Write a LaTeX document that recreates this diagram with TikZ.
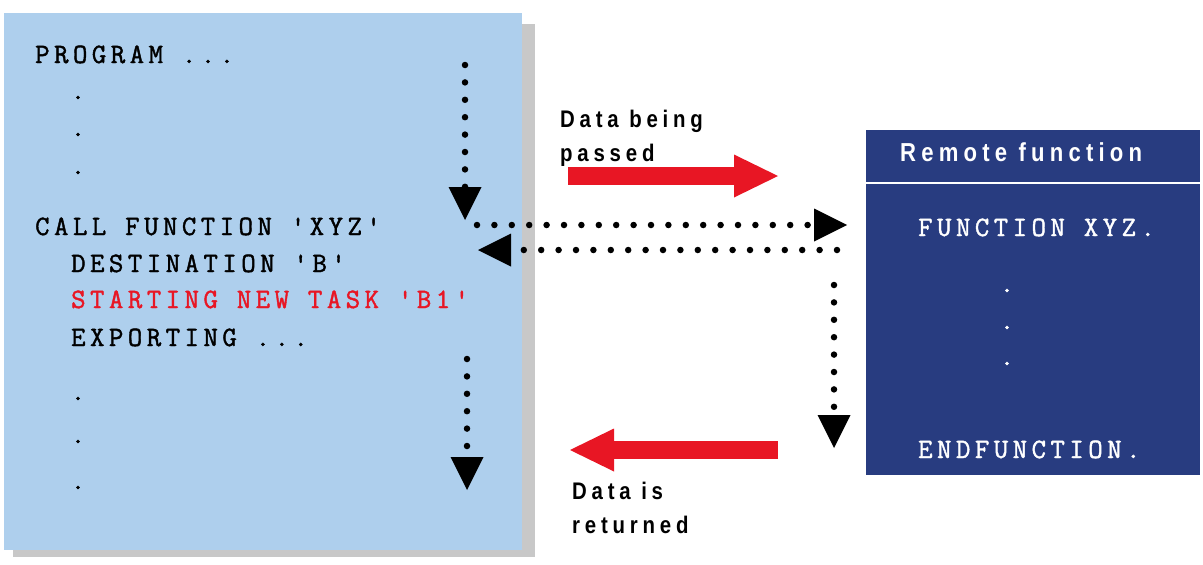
\documentclass[tikz,border=0pt]{standalone}
\usepackage{fontspec}
\setmonofont{Latin Modern Mono}[LetterSpace=16,FakeBold=1.5]
\newfontfamily\labelfont{Liberation Sans}[LetterSpace=20,FakeStretch=0.85]
\usetikzlibrary{arrows.meta}

\definecolor{progblue}{RGB}{174,207,237}
\definecolor{remoteblue}{RGB}{40,60,128}
\definecolor{shadowgray}{RGB}{200,200,200}
\definecolor{flowred}{RGB}{232,22,36}

\tikzset{
  code/.style={anchor=base west, inner sep=0pt, font=\fontsize{28}{34}\selectfont\ttfamily},
  codedot/.style={code, anchor=base},
  lbl/.style={anchor=base west, inner sep=0pt, font=\fontsize{24}{28}\selectfont\labelfont\bfseries},
  dotflow/.style={line width=6.5pt, line cap=round, dash pattern=on 0pt off 17.4pt,
    -{Triangle[length=33pt,width=33pt,line width=0pt]}},
  bigflow/.style={flowred, line width=18pt, -{Triangle[length=44pt,width=43pt,line width=0pt]}}
}

\begin{document}
\begin{tikzpicture}[x=1pt, y=-1pt]
  \useasboundingbox (0,0) rectangle (1203,565);

  % Calling program
  \fill[shadowgray] (13,24) rectangle (535,557);
  \fill[progblue] (4,13) rectangle (522,550);
  \node[code] (prog) at (35,63) {PROGRAM ...};
  \node[codedot] (pdot1) at (78,99) {.};
  \node[codedot] (pdot2) at (78,136) {.};
  \node[codedot] (pdot3) at (78,174) {.};
  \node[code] (call) at (35,235) {CALL FUNCTION 'XYZ'};
  \node[code] (dest) at (71,272) {DESTINATION 'B'};
  \node[code, text=flowred] (task) at (71,308) {STARTING NEW TASK 'B1'};
  \node[code] (export) at (71,346) {EXPORTING ...};
  \node[codedot] (edot1) at (78,400) {.};
  \node[codedot] (edot2) at (78,443) {.};
  \node[codedot] (edot3) at (78,489) {.};

  % Remote function
  \fill[remoteblue] (866,130) rectangle (1200,475);
  \draw[white, line width=2pt] (866,183) -- (1200,183);
  \node[lbl, text=white, font=\fontsize{26}{30}\selectfont\labelfont\bfseries] (remote) at (900,161) {Remote function};
  \node[code, text=white] (fxyz) at (918,236) {FUNCTION XYZ.};
  \node[codedot, text=white] (fdot1) at (1007,292) {.};
  \node[codedot, text=white] (fdot2) at (1007,329) {.};
  \node[codedot, text=white] (fdot3) at (1007,365) {.};
  \node[code, text=white] (endf) at (918,458) {ENDFUNCTION.};

  % Control flow
  \coordinate (runA) at (465,65);
  \coordinate (callA) at (465,220);
  \coordinate (callB) at (477,225);
  \coordinate (remA) at (847,225);
  \coordinate (remB) at (837,250);
  \coordinate (backA) at (478,250);
  \coordinate (runB) at (467,359);
  \coordinate (runC) at (467,490);
  \coordinate (remC) at (834,285);
  \coordinate (remD) at (834,448);
  \draw[dotflow] (runA) -- (callA);
  \draw[dotflow] (callB) -- (remA);
  \draw[dotflow] (remB) -- (backA);
  \draw[dotflow] (runB) -- (runC);
  \draw[dotflow] (remC) -- (remD);

  % Data flow
  \coordinate (passfrom) at (568,176);
  \coordinate (passto) at (778,176);
  \coordinate (retfrom) at (778,450);
  \coordinate (retto) at (570,450);
  \draw[bigflow] (passfrom) -- (passto);
  \draw[bigflow] (retfrom) -- (retto);
  \node[lbl] (pass1) at (560,127) {Data being};
  \node[lbl] (pass2) at (560,161) {passed};
  \node[lbl] (ret1) at (572,499) {Data is};
  \node[lbl] (ret2) at (572,533) {returned};
\end{tikzpicture}
\end{document}
